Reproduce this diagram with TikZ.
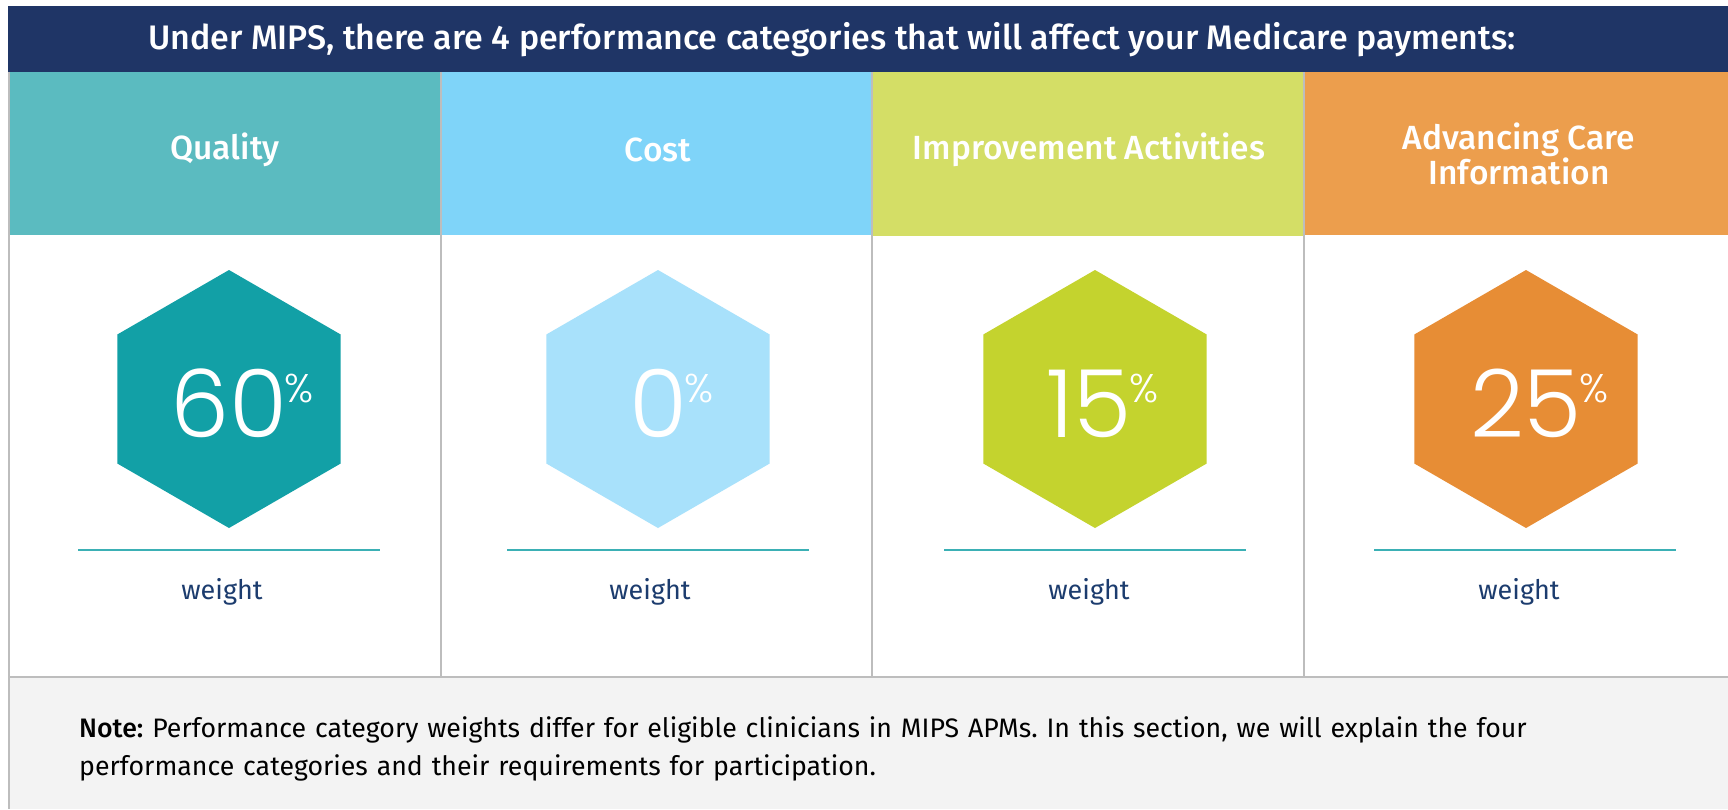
\documentclass[tikz,border=0pt]{standalone}
\usepackage{fontspec}
\setmainfont{Fira Sans}[BoldFont=* Medium]
\newfontfamily\numfont{Poppins}[UprightFont=* Light]
\usetikzlibrary{calc}
\frenchspacing
\definecolor{navy}{HTML}{1F3566}
\definecolor{qualhead}{HTML}{5BBBC0}
\definecolor{costhead}{HTML}{7FD4F9}
\definecolor{imphead}{HTML}{D4DE66}
\definecolor{acihead}{HTML}{EC9E4D}
\definecolor{qualhex}{HTML}{12A0A6}
\definecolor{costhex}{HTML}{A8E1FB}
\definecolor{imphex}{HTML}{C4D32E}
\definecolor{acihex}{HTML}{E78D35}
\definecolor{rulec}{HTML}{3BB0B5}
\definecolor{weightc}{HTML}{1C3C6E}
\definecolor{gridc}{HTML}{BDBDBD}
\definecolor{notebg}{HTML}{F3F3F3}
\tikzset{
  headtext/.style={text=white, font=\fontsize{34}{40}\selectfont\bfseries, inner sep=0},
  coltext/.style={text=white, font=\fontsize{33.5}{32}\selectfont\bfseries, align=center, inner sep=0},
  pct/.style={text=white, font=\numfont\fontsize{94}{94}\selectfont, inner sep=0, anchor=base},
  pctsign/.style={text=white, font=\numfont\fontsize{40}{40}\selectfont, inner sep=0, anchor=base west},
  wtext/.style={text=weightc, font=\fontsize{27}{30}\selectfont, inner sep=0},
  gridline/.style={draw=gridc, line width=1.2pt},
  wrule/.style={draw=rulec, line width=1.5pt},
  notetext/.style={text=black, font=\fontsize{26.7}{38}\selectfont, align=left, inner sep=0, anchor=north west, text width=1640pt}
}
\newcommand{\hexfill}[3]{%
  \fill[#3] (#1,#2-129) -- (#1+111.7,#2-64.5) -- (#1+111.7,#2+64.5) -- (#1,#2+129)
    -- (#1-111.7,#2+64.5) -- (#1-111.7,#2-64.5) -- cycle;}
\begin{document}
\begin{tikzpicture}[x=1pt,y=-1pt]
\useasboundingbox (0,0) rectangle (1728,809);
\fill[white] (0,0) rectangle (1728,809);
% top banner
\fill[navy] (8,6) rectangle (1728,72);
\node[headtext] (title) at (832,40) {Under MIPS, there are 4 performance categories that will affect your Medicare payments:};
% column headers
\fill[qualhead] (9,72) rectangle (441,235);
\fill[costhead] (441,72) rectangle (872,235);
\fill[imphead] (872,72) rectangle (1304,236);
\fill[acihead] (1304,72) rectangle (1728,235);
\node[coltext] (h1) at (225,150) {Quality};
\node[coltext] (h2) at (658,150) {Cost};
\node[coltext] (h3) at (1089,150) {Improvement Activities};
\node[coltext] (h4) at (1519,154) {Advancing Care\\Information};
% note area
\fill[notebg] (9,677) rectangle (1728,809);
% grid lines
\draw[gridline] (9,72) -- (9,809);
\draw[gridline] (441,72) -- (441,677);
\draw[gridline] (872,72) -- (872,677);
\draw[gridline] (1304,72) -- (1304,677);
\draw[gridline] (9,677) -- (1728,677);
% hexagons
\hexfill{229}{399}{qualhex}
\hexfill{658}{399}{costhex}
\hexfill{1095}{399}{imphex}
\hexfill{1526}{399}{acihex}
\node[pct] (p1) at (229,437) {60};
\node[pctsign] (s1) at ($(p1.base east)+(-3,-35)$) {\%};
\node[pct] (p2) at (658,437) {0};
\node[pctsign] (s2) at ($(p2.base east)+(-3,-35)$) {\%};
\node[pct] (p3) at (1089,437) {15};
\node[pctsign] (s3) at ($(p3.base east)+(-3,-35)$) {\%};
\node[pct] (p4) at (1526,437) {25};
\node[pctsign] (s4) at ($(p4.base east)+(-3,-35)$) {\%};
% rules and weight labels
\draw[wrule] (78,550) -- (380,550);
\draw[wrule] (507,550) -- (809,550);
\draw[wrule] (944,550) -- (1246,550);
\draw[wrule] (1374,550) -- (1676,550);
\node[wtext] (w1) at (222,592) {weight};
\node[wtext] (w2) at (650,592) {weight};
\node[wtext] (w3) at (1089,592) {weight};
\node[wtext] (w4) at (1519,592) {weight};
% note
\node[notetext] (note) at (79,716) {\textbf{Note:} Performance category weights differ for eligible clinicians in MIPS APMs. In this section, we will explain the four\\performance categories and their requirements for participation.};
\end{tikzpicture}
\end{document}
